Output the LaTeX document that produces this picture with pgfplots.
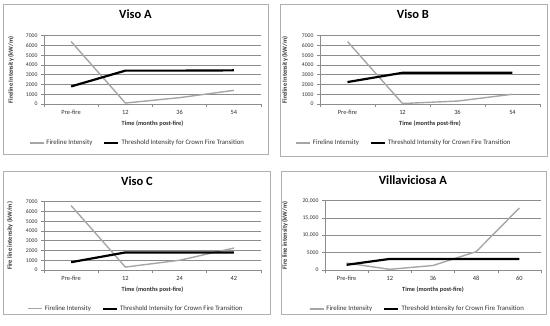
\documentclass[border=0pt]{standalone}
\usepackage{pgfplots}
\pgfplotsset{compat=1.18}
\usepackage{fontspec}
\setmainfont{Carlito}
\definecolor{fgray}{HTML}{A6A6A6}
\definecolor{gridgray}{HTML}{8C8C8C}
\definecolor{axgray}{HTML}{8C8C8C}
\definecolor{boxgray}{HTML}{B0B0B0}
\definecolor{txt}{HTML}{303030}
\pgfplotsset{
  panel/.style={
    scale only axis,
    axis x line*=bottom, axis y line*=left,
    axis line style={draw=axgray,-,line width=0.5pt},
    ymajorgrids, grid style={draw=gridgray,line width=0.5pt},
    tick align=outside, major tick length=3pt, minor tick length=3pt,
    tick style={draw=axgray,line width=0.5pt},
    major x tick style={draw=none},
    yticklabel style={font=\fontsize{5.7}{6}\selectfont, text=txt},
    xticklabel style={font=\fontsize{6.4}{7}\selectfont, text=txt},
    ymin=0, scaled y ticks=false,
    title style={font=\fontsize{12.5}{14}\selectfont\bfseries, anchor=center},
    every axis x label/.style={at={(axis description cs:0.5,0)}, anchor=center, yshift=-19.5pt, font=\fontsize{6.3}{7}\selectfont\bfseries, text=txt},
    xlabel={Time (months post-fire)},
    legend columns=2,
    legend style={draw=none, fill=none, font=\fontsize{6.8}{7.5}\selectfont, text=txt, anchor=center,
      /tikz/every even column/.append style={column sep=9pt}},
    legend image code/.code={\draw[#1] (0pt,0pt) -- (14pt,0pt);},
  },
  ylabpos/.style={every axis y label/.style={at={(axis description cs:#1,0.5)}, rotate=90, anchor=center, font=\fontsize{6.4}{7}\selectfont\bfseries, text=txt}},
  fire/.style={draw=fgray, line width=1.4pt, mark=none},
  thr/.style={draw=black, line width=2.2pt, mark=none},
}
\begin{document}
\begin{tikzpicture}
\useasboundingbox (0pt,0pt) rectangle (550pt,325pt);
\draw[boxgray, line width=0.8pt] (3pt,321pt) rectangle (268pt,171pt);
\draw[boxgray, line width=0.8pt] (280pt,321pt) rectangle (547pt,169pt);
\draw[boxgray, line width=0.8pt] (3pt,154pt) rectangle (270pt,11pt);
\draw[boxgray, line width=0.8pt] (281pt,154pt) rectangle (546pt,11pt);

% Viso A
\begin{axis}[panel, at={(44pt,221pt)}, anchor=south west, width=217pt, height=68.3pt,
  xmin=-0.5, xmax=3.5, xtick={0,1,2,3}, xticklabels={Pre-fire,12,36,54},
  minor xtick={-0.5,0.5,1.5,2.5,3.5},
  ymax=7000, ytick={0,1000,...,7000}, yticklabels={0,1000,2000,3000,4000,5000,6000,7000},
  title={Viso A}, title style={at={(axis description cs:0.4217,1)}, yshift=15.7pt},
  ylabpos=-0.152, ylabel={Fireline Intensity (kW/m)},
  legend style={at={(axis description cs:0.431,-0.571)}}]
\addplot[fire] coordinates {(0,6400) (1,100) (2,650) (3,1400)};
\addlegendentry{Fireline Intensity}
\addplot[thr] coordinates {(0,1800) (1,3420) (2,3420) (3,3450)};
\addlegendentry{Threshold Intensity for Crown Fire Transition}
\end{axis}

% Viso B
\begin{axis}[panel, at={(320pt,221pt)}, anchor=south west, width=220pt, height=68.3pt,
  xmin=-0.5, xmax=3.5, xtick={0,1,2,3}, xticklabels={Pre-fire,12,36,54},
  minor xtick={-0.5,0.5,1.5,2.5,3.5},
  ymax=7000, ytick={0,1000,...,7000}, yticklabels={0,1000,2000,3000,4000,5000,6000,7000},
  title={Viso B}, title style={at={(axis description cs:0.4227,1)}, yshift=15.7pt},
  ylabpos=-0.159, ylabel={Fireline Intensity (kW/m)},
  legend style={at={(axis description cs:0.382,-0.571)}}]
\addplot[fire] coordinates {(0,6400) (1,50) (2,300) (3,1000)};
\addlegendentry{Fireline Intensity}
\addplot[thr] coordinates {(0,2250) (1,3200) (2,3200) (3,3200)};
\addlegendentry{Threshold Intensity for Crown Fire Transition}
\end{axis}

% Viso C
\begin{axis}[panel, at={(44pt,55pt)}, anchor=south west, width=217pt, height=68.3pt,
  xmin=-0.5, xmax=3.5, xtick={0,1,2,3}, xticklabels={Pre-fire,12,24,42},
  minor xtick={-0.5,0.5,1.5,2.5,3.5},
  ymax=7000, ytick={0,1000,...,7000}, yticklabels={0,1000,2000,3000,4000,5000,6000,7000},
  title={Viso C}, title style={at={(axis description cs:0.4286,1)}, yshift=14.7pt},
  ylabpos=-0.157, ylabel={Fire line intensity (kW/m)},
  legend style={at={(axis description cs:0.424,-0.567)}}]
\addplot[fire] coordinates {(0,6600) (1,300) (2,1000) (3,2250)};
\addlegendentry{Fireline Intensity}
\addplot[thr] coordinates {(0,800) (1,1800) (2,1800) (3,1800)};
\addlegendentry{Threshold Intensity for Crown Fire Transition}
\end{axis}

% Villaviciosa A
\begin{axis}[panel, at={(325pt,55pt)}, anchor=south west, width=216pt, height=69.3pt,
  xmin=-0.5, xmax=4.5, xtick={0,1,2,3,4}, xticklabels={Pre-fire,12,36,48,60},
  minor xtick={-0.5,0.5,1.5,2.5,3.5,4.5},
  ymax=20000, ytick={0,5000,10000,15000,20000}, yticklabels={0,5000,{10,000},{15,000},{20,000}},
  title={Villaviciosa A}, title style={at={(axis description cs:0.407,1)}, yshift=14.7pt},
  ylabpos=-0.185, ylabel={Fire line intensity (kW/m)},
  legend style={at={(axis description cs:0.428,-0.56)}}]
\addplot[fire] coordinates {(0,2000) (1,200) (2,1300) (3,5300) (4,17900)};
\addlegendentry{Fireline Intensity}
\addplot[thr] coordinates {(0,1500) (1,3200) (2,3200) (3,3200) (4,3200)};
\addlegendentry{Threshold Intensity for Crown Fire Transition}
\end{axis}
\end{tikzpicture}
\end{document}
